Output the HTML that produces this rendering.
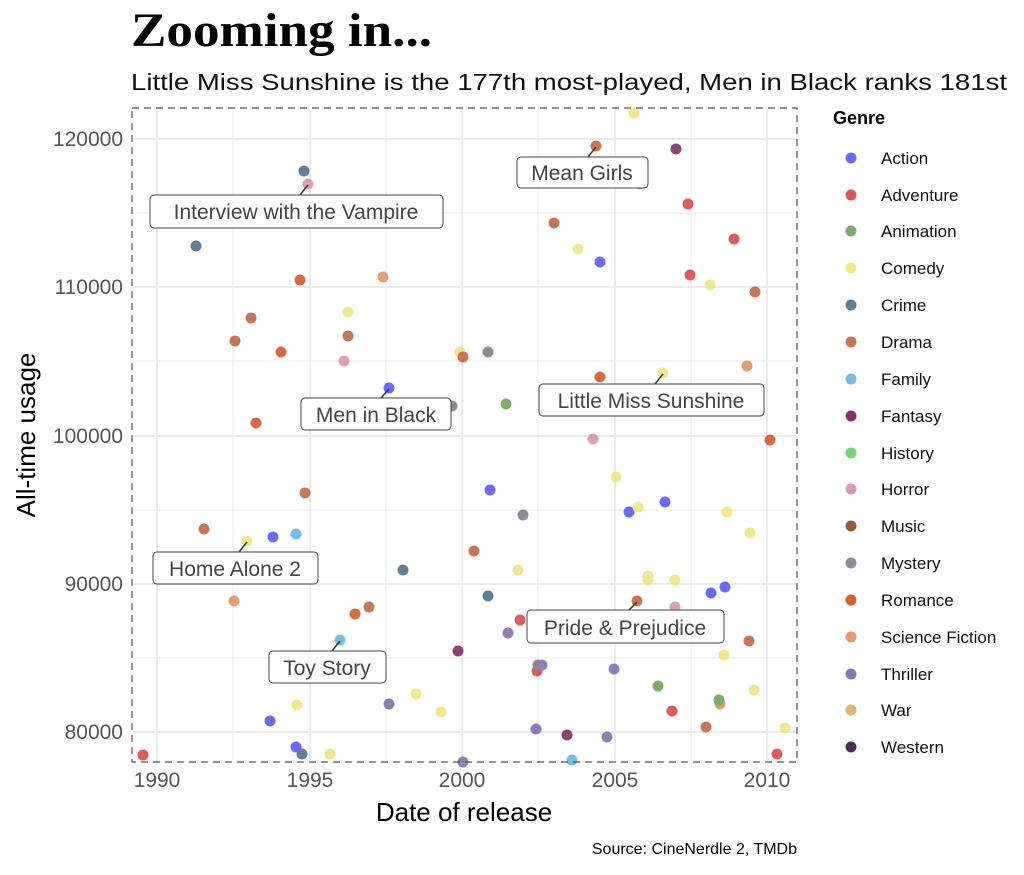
<!DOCTYPE html><html><head><meta charset="utf-8"><style>
body{margin:0;background:#fff;width:1024px;height:870px;overflow:hidden}
svg text{font-family:"Liberation Sans",sans-serif}
</style></head><body>
<svg width="1024" height="870" xmlns="http://www.w3.org/2000/svg">
<text x="131" y="46" font-weight="bold" font-size="48" textLength="301" lengthAdjust="spacingAndGlyphs" style="font-family:'Liberation Serif',serif">Zooming in...</text>
<text x="131" y="90" font-size="23" fill="#111" textLength="876" lengthAdjust="spacingAndGlyphs">Little Miss Sunshine is the 177th most-played, Men in Black ranks 181st</text>
<g stroke="#ebebeb" stroke-width="1">
<line x1="133" x2="797" y1="213" y2="213"/><line x1="133" x2="797" y1="361" y2="361"/><line x1="133" x2="797" y1="510" y2="510"/><line x1="133" x2="797" y1="658" y2="658"/>
<line y1="109" y2="761" x1="233" x2="233"/><line y1="109" y2="761" x1="386" x2="386"/><line y1="109" y2="761" x1="538" x2="538"/><line y1="109" y2="761" x1="691" x2="691"/>
</g>
<g stroke="#ebebeb" stroke-width="2">
<line x1="133" x2="797" y1="139" y2="139"/><line x1="133" x2="797" y1="287" y2="287"/><line x1="133" x2="797" y1="436" y2="436"/><line x1="133" x2="797" y1="584" y2="584"/><line x1="133" x2="797" y1="732" y2="732"/>
<line y1="109" y2="761" x1="157" x2="157"/><line y1="109" y2="761" x1="310" x2="310"/><line y1="109" y2="761" x1="462" x2="462"/><line y1="109" y2="761" x1="615" x2="615"/><line y1="109" y2="761" x1="767" x2="767"/>
</g>
<g opacity="0.82">
<g fill="#4a4aff"><circle cx="389" cy="388" r="5.5"/><circle cx="600" cy="262" r="5.5"/><circle cx="490" cy="490" r="5.5"/><circle cx="629" cy="512" r="5.5"/><circle cx="665" cy="502" r="5.5"/><circle cx="725" cy="587" r="5.5"/><circle cx="711" cy="593" r="5.5"/><circle cx="270" cy="721" r="5.5"/><circle cx="273" cy="537" r="5.5"/><circle cx="296" cy="747" r="5.5"/></g>
<g fill="#d63a34"><circle cx="143" cy="755" r="5.5"/><circle cx="520" cy="620" r="5.5"/><circle cx="537" cy="671" r="5.5"/><circle cx="672" cy="711" r="5.5"/><circle cx="688" cy="204" r="5.5"/><circle cx="690" cy="275" r="5.5"/><circle cx="734" cy="239" r="5.5"/><circle cx="777" cy="754" r="5.5"/></g>
<g fill="#eee27a"><circle cx="634" cy="113" r="5.5"/><circle cx="578" cy="249" r="5.5"/><circle cx="348" cy="312" r="5.5"/><circle cx="460" cy="352" r="5.5"/><circle cx="663" cy="373" r="5.5"/><circle cx="247" cy="541" r="5.5"/><circle cx="616" cy="477" r="5.5"/><circle cx="638" cy="507" r="5.5"/><circle cx="518" cy="570" r="5.5"/><circle cx="648" cy="576" r="5.5"/><circle cx="675" cy="580" r="5.5"/><circle cx="727" cy="512" r="5.5"/><circle cx="750" cy="533" r="5.5"/><circle cx="724" cy="655" r="5.5"/><circle cx="754" cy="690" r="5.5"/><circle cx="297" cy="705" r="5.5"/><circle cx="416" cy="694" r="5.5"/><circle cx="441" cy="712" r="5.5"/><circle cx="330" cy="754" r="5.5"/><circle cx="785" cy="728" r="5.5"/><circle cx="710" cy="285" r="5.5"/><circle cx="648" cy="580" r="5.5"/></g>
<g fill="#3f6380"><circle cx="304" cy="171" r="5.5"/><circle cx="196" cy="246" r="5.5"/><circle cx="403" cy="570" r="5.5"/><circle cx="488" cy="596" r="5.5"/><circle cx="302" cy="754" r="5.5"/></g>
<g fill="#bb5a2e"><circle cx="596" cy="146" r="5.5"/><circle cx="554" cy="223" r="5.5"/><circle cx="251" cy="318" r="5.5"/><circle cx="235" cy="341" r="5.5"/><circle cx="348" cy="336" r="5.5"/><circle cx="463" cy="357" r="5.5"/><circle cx="305" cy="493" r="5.5"/><circle cx="474" cy="551" r="5.5"/><circle cx="204" cy="529" r="5.5"/><circle cx="637" cy="601" r="5.5"/><circle cx="749" cy="641" r="5.5"/><circle cx="755" cy="292" r="5.5"/><circle cx="548" cy="398" r="5.5"/><circle cx="706" cy="727" r="5.5"/><circle cx="369" cy="607" r="5.5"/></g>
<g fill="#d04a1c"><circle cx="300" cy="280" r="5.5"/><circle cx="256" cy="423" r="5.5"/><circle cx="281" cy="352" r="5.5"/><circle cx="355" cy="614" r="5.5"/><circle cx="600" cy="377" r="5.5"/><circle cx="770" cy="440" r="5.5"/></g>
<g fill="#dc8a55"><circle cx="383" cy="277" r="5.5"/><circle cx="747" cy="366" r="5.5"/><circle cx="234" cy="601" r="5.5"/><circle cx="720" cy="704" r="5.5"/></g>
<g fill="#d88aa6"><circle cx="308" cy="184" r="5.5"/><circle cx="344" cy="361" r="5.5"/><circle cx="593" cy="439" r="5.5"/><circle cx="675" cy="607" r="5.5"/><circle cx="282" cy="662" r="5.5"/><circle cx="640" cy="184" r="5.5"/></g>
<g fill="#56afe0"><circle cx="296" cy="534" r="5.5"/><circle cx="340" cy="640" r="5.5"/><circle cx="572" cy="760" r="5.5"/></g>
<g fill="#7a1a5a"><circle cx="676" cy="149" r="5.5"/><circle cx="458" cy="651" r="5.5"/><circle cx="567" cy="735" r="5.5"/></g>
<g fill="#786f80"><circle cx="488" cy="352" r="5.5"/><circle cx="452" cy="406" r="5.5"/><circle cx="523" cy="515" r="5.5"/><circle cx="538" cy="665" r="5.5"/></g>
<g fill="#5f9a4a"><circle cx="506" cy="404" r="5.5"/><circle cx="658" cy="686" r="5.5"/><circle cx="719" cy="700" r="5.5"/></g>
<g fill="#7a62aa"><circle cx="508" cy="633" r="5.5"/><circle cx="389" cy="704" r="5.5"/><circle cx="542" cy="665" r="5.5"/><circle cx="536" cy="729" r="5.5"/><circle cx="614" cy="669" r="5.5"/><circle cx="607" cy="737" r="5.5"/><circle cx="463" cy="762" r="5.5"/></g>
</g>
<rect x="132" y="108" width="665" height="654" fill="none" stroke="#555" stroke-width="1.2" stroke-dasharray="7,5"/>
<g stroke="#333" stroke-width="1.5"><line x1="300" y1="195" x2="308" y2="185"/><line x1="588" y1="157" x2="596" y2="147"/><line x1="381" y1="398" x2="389" y2="389"/><line x1="655" y1="384" x2="663" y2="374"/><line x1="239" y1="552" x2="247" y2="542"/><line x1="629" y1="610" x2="637" y2="602"/><line x1="332" y1="651" x2="340" y2="641"/></g>
<g fill="#fff" stroke="#444" stroke-width="1"><rect x="150" y="195" width="293" height="33" rx="4"/><rect x="517" y="157" width="131" height="31" rx="4"/><rect x="301" y="398" width="150" height="32" rx="4"/><rect x="539" y="384" width="225" height="32" rx="4"/><rect x="153" y="552" width="165" height="32" rx="4"/><rect x="527" y="610" width="197" height="33" rx="4"/><rect x="269" y="651" width="117" height="32" rx="4"/></g>
<g font-size="21" fill="#444" text-anchor="middle"><text x="296" y="219">Interview with the Vampire</text><text x="582" y="180">Mean Girls</text><text x="376" y="422">Men in Black</text><text x="651" y="408">Little Miss Sunshine</text><text x="235" y="576">Home Alone 2</text><text x="625" y="635">Pride &amp; Prejudice</text><text x="327" y="675">Toy Story</text></g>
<g font-size="21" fill="#555" text-anchor="end"><text x="123" y="146">120000</text><text x="123" y="294">110000</text><text x="123" y="443">100000</text><text x="123" y="591">90000</text><text x="123" y="739">80000</text></g>
<g font-size="21" fill="#555" text-anchor="middle"><text x="157" y="787">1990</text><text x="310" y="787">1995</text><text x="462" y="787">2000</text><text x="615" y="787">2005</text><text x="767" y="787">2010</text></g>
<text x="464" y="821" font-size="26" text-anchor="middle">Date of release</text>
<text transform="translate(35,435) rotate(-90)" font-size="26" text-anchor="middle">All-time usage</text>
<text x="797" y="854" font-size="16" text-anchor="end">Source: CineNerdle 2, TMDb</text>
<text x="833" y="124" font-size="18" font-weight="bold">Genre</text>
<g font-size="17" fill="#111">
<circle cx="851" cy="158" r="5.5" fill="#6a6aff"/><text x="881" y="164">Action</text>
<circle cx="851" cy="195" r="5.5" fill="#dc5550"/><text x="881" y="201">Adventure</text>
<circle cx="851" cy="231" r="5.5" fill="#82a86c"/><text x="881" y="237">Animation</text>
<circle cx="851" cy="268" r="5.5" fill="#f2e890"/><text x="881" y="274">Comedy</text>
<circle cx="851" cy="305" r="5.5" fill="#5f7d95"/><text x="881" y="311">Crime</text>
<circle cx="851" cy="342" r="5.5" fill="#c8764c"/><text x="881" y="348">Drama</text>
<circle cx="851" cy="379" r="5.5" fill="#72bce4"/><text x="881" y="385">Family</text>
<circle cx="851" cy="416" r="5.5" fill="#8e2f70"/><text x="881" y="422">Fantasy</text>
<circle cx="851" cy="453" r="5.5" fill="#6fd870"/><text x="881" y="459">History</text>
<circle cx="851" cy="489" r="5.5" fill="#dc98b2"/><text x="881" y="495">Horror</text>
<circle cx="851" cy="526" r="5.5" fill="#9a5a38"/><text x="881" y="532">Music</text>
<circle cx="851" cy="563" r="5.5" fill="#908898"/><text x="881" y="569">Mystery</text>
<circle cx="851" cy="600" r="5.5" fill="#d8602e"/><text x="881" y="606">Romance</text>
<circle cx="851" cy="637" r="5.5" fill="#e09a6c"/><text x="881" y="643">Science Fiction</text>
<circle cx="851" cy="674" r="5.5" fill="#8a76b6"/><text x="881" y="680">Thriller</text>
<circle cx="851" cy="710" r="5.5" fill="#e8b272"/><text x="881" y="716">War</text>
<circle cx="851" cy="747" r="5.5" fill="#4e2c58"/><text x="881" y="753">Western</text>
</g>
</svg>
</body></html>
